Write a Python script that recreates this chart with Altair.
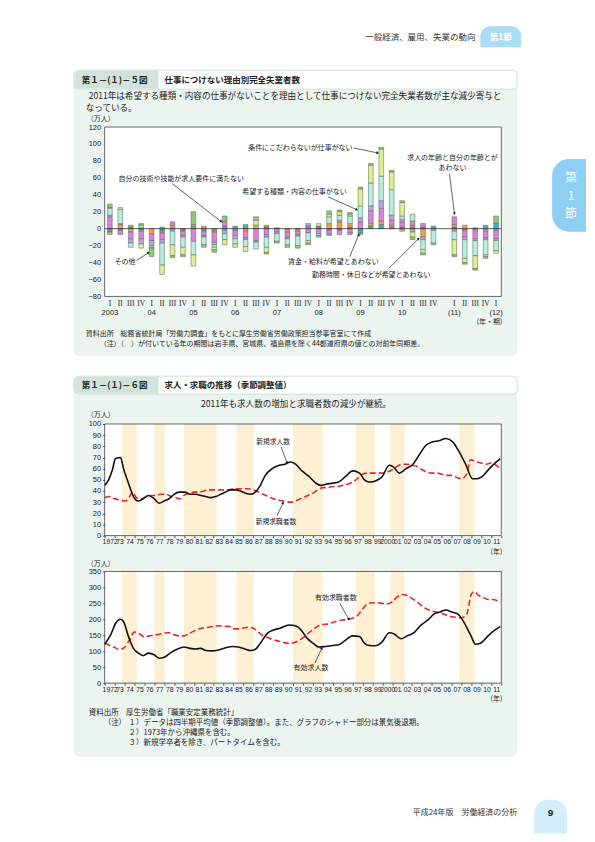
import math
import altair as alt
import pandas as pd

JP = "Noto Sans CJK JP"
NUM = "Liberation Sans"
NARROW = "Liberation Sans Narrow, Liberation Sans, sans-serif"
SERIF = "Liberation Serif, DejaVu Serif, serif"

# ---------------- 第1-(1)-5図 data ----------------
slot_keys = ([f"{y}-{q}" for y in range(2003, 2011) for q in range(1, 5)]
             + ["gap-0"] + [f"2011-{q}" for q in range(1, 5)] + ["2012-1"])
bar_slots = [k for k in slot_keys if k != "gap-0"]
year_slots = ["2003-1", "2004-1", "2005-1", "2006-1", "2007-1", "2008-1",
              "2009-1", "2010-1", "2011-1", "2012-1"]
year_texts = ["2003", "04", "05", "06", "07", "08", "09", "10", "(11)", "(12)"]

reasons = ["賃金・給料が希望とあわない", "勤務時間・休日などが希望とあわない",
           "求人の年齢と自分の年齢とがあわない", "自分の技術や技能が求人要件に満たない",
           "希望する種類・内容の仕事がない", "条件にこだわらないが仕事がない", "その他"]
reason_colors = ["#35b3c6", "#f4a046", "#e27ddd", "#b8a2e8", "#b6efdb", "#dcf08e", "#8ccf6a"]

wage = [-4, -2, 2, -3, 0, -3, 1, -2, 1, -3, -2, 3, 3, 3, 0, 2, 0, -1, -1, 3, 2, -2, -2, 2, -5,
        3, 5, 2, 2, 2, 2, 3, 2, -2, 1, 4, 7]
hours = [-3, 5, -4, 1, -6, -2, 3, -1, 2, 3, -2, -2, -2, -3, 4, 2, 1, -3, -2, 0, 0, 6, 8, 4, -2,
         3, 4, 2, -3, 2, -10, 0, 3, 4, -2, -3, -2]
age = [14, -5, -8, -9, -8, -8, 4, -5, -15, -5, -12, 6, -6, -8, -14, -7, -4, -6, -4, -5, -6, -4,
       -5, -5, 8, 15, 15, 6, 6, 5, 4, 0, 9, -8, -10, -8, -10]
skill = [2, 1, -5, -6, -6, -4, -3, -2, 2, -2, -3, -4, -4, -2, -2, -3, -2, -2, -2, 3, 1, -2, 2,
         -2, 5, 6, 9, 6, 3, -4, -3, -2, -3, -3, -2, -2, -2]
kind = [8, 17, -5, 3, -2, -26, -16, -12, -16, -9, -3, -7, -6, -8, -8, -12, -9, -7, -11, -9, -2,
        8, 6, 9, 14, 27, 29, 30, 4, 8, -12, -15, -10, -22, -18, -18, -12]
anyjob = [1, 2, 0, -5, -1, -11, -13, -9, -13, 0, -3, -6, -4, -6, 6, -6, 0, 0, 0, -3, 3, 3, 4, 2,
          20, 21, 32, 21, 16, -6, -4, 0, -18, -5, -15, -2, -3]
other = [4, 0, 2, 2, -10, 2, -2, -2, 15, -3, -3, 6, 0, 2, 4, -2, -2, -3, -3, -2, -2, 4, 2, 2, 2,
         2, 2, 2, 2, -3, -2, -2, -2, -2, -2, -2, 8]

# ---------------- 第1-(1)-6図 data ----------------
rec_start = [1973.75, 1977.0, 1980.0, 1985.3, 1991.0, 1997.3, 2000.8, 2007.75]
rec_end = [1975.25, 1978.05, 1983.3, 1987.05, 1994.0, 1999.25, 2002.25, 2009.3]

new_offers_t = [1972.0, 1972.4, 1972.75, 1973.1, 1973.6, 1973.9, 1974.4, 1974.9, 1975.4, 1975.9,
                1976.4, 1977.0, 1977.5, 1978.0, 1978.5, 1979.0, 1979.5, 1980.1, 1980.6, 1981.2,
                1981.7, 1982.2, 1982.7, 1983.2, 1983.7, 1984.2, 1984.7, 1985.2, 1985.7, 1986.2,
                1986.7, 1987.2, 1987.7, 1988.2, 1988.9, 1989.6, 1990.2, 1990.75, 1991.25, 1991.9,
                1992.6, 1993.3, 1993.8, 1994.3, 1995.0, 1995.6, 1996.3, 1997.0, 1997.7, 1998.2,
                1998.7, 1999.3, 2000.0, 2000.7, 2001.2, 2001.7, 2002.4, 2003.0, 2003.7, 2004.4,
                2005.1, 2005.7, 2006.4, 2007.1, 2007.75, 2008.4, 2009.1, 2009.6, 2010.1, 2010.8,
                2011.5, 2011.9]
new_offers_v = [45, 50, 58, 69, 70, 60, 47, 35, 31, 33, 36, 33, 29, 31, 33, 37, 39, 39, 37, 37,
                36, 35, 34, 35, 37, 39, 41, 41, 40, 38, 37, 39, 45, 54, 60, 63, 64, 66, 64, 58,
                53, 47, 45, 46, 47, 48, 53, 58, 56, 50, 48, 49, 53, 63, 61, 56, 60, 63, 72, 81,
                84, 85, 87, 84, 75, 64, 51, 51, 53, 60, 66, 69]

new_seekers_t = [1972.0, 1972.5, 1973.0, 1973.5, 1974.0, 1974.4, 1974.8, 1975.2, 1975.7, 1976.2,
                 1976.7, 1977.2, 1977.7, 1978.2, 1978.7, 1979.2, 1979.6, 1980.0, 1980.5, 1981.0,
                 1981.5, 1982.0, 1982.5, 1983.0, 1983.5, 1984.0, 1984.5, 1985.0, 1985.5, 1986.0,
                 1986.5, 1987.0, 1987.5, 1988.0, 1988.5, 1989.0, 1989.5, 1990.0, 1990.5, 1991.0,
                 1991.5, 1992.0, 1992.5, 1993.0, 1993.5, 1994.0, 1994.5, 1995.0, 1995.5, 1996.0,
                 1996.5, 1997.0, 1997.5, 1998.0, 1998.5, 1999.0, 1999.5, 2000.0, 2000.5, 2001.0,
                 2001.5, 2002.0, 2002.5, 2003.0, 2003.5, 2004.0, 2004.5, 2005.0, 2005.5, 2006.0,
                 2006.5, 2007.0, 2007.5, 2008.0, 2008.5, 2008.9, 2009.5, 2010.0, 2010.5, 2011.0,
                 2011.5, 2011.9]
new_seekers_v = [34, 35, 33, 32, 31, 33, 39, 34, 33, 35, 36, 36, 37, 37, 35, 34, 33, 36, 38, 39,
                 39, 40, 41, 41, 41, 41, 41, 42, 42, 42, 42, 41, 39, 37, 35, 33, 32, 31, 30, 30,
                 32, 34, 36, 38, 41, 43, 43, 44, 44, 45, 46, 48, 51, 55, 56, 56, 56, 56, 57, 59,
                 62, 64, 64, 63, 62, 59, 57, 56, 56, 55, 54, 54, 52, 51, 55, 68, 66, 65, 64, 65,
                 63, 60]

active_offers_t = [1972.0, 1972.6, 1973.1, 1973.6, 1973.9, 1974.4, 1974.9, 1975.4, 1975.9, 1976.4,
                   1977.0, 1977.5, 1978.0, 1978.6, 1979.3, 1980.0, 1980.6, 1981.2, 1981.7, 1982.2,
                   1982.8, 1983.5, 1984.2, 1984.9, 1985.5, 1986.2, 1986.7, 1987.2, 1987.7, 1988.4,
                   1989.1, 1989.7, 1990.6, 1991.3, 1991.8, 1992.4, 1993.1, 1993.6, 1994.3, 1995.0,
                   1995.6, 1996.3, 1997.0, 1997.7, 1998.2, 1998.7, 1999.3, 2000.0, 2000.7, 2001.2,
                   2001.9, 2002.5, 2003.2, 2003.9, 2004.6, 2005.2, 2005.9, 2006.4, 2007.1, 2007.6,
                   2008.3, 2008.9, 2009.4, 2009.9, 2010.6, 2011.3, 2011.9]
active_offers_v = [122, 151, 187, 200, 193, 146, 109, 94, 86, 94, 89, 78, 81, 94, 106, 113, 109,
                   107, 109, 102, 101, 104, 111, 115, 113, 106, 102, 106, 125, 156, 167, 172, 182,
                   179, 167, 141, 123, 113, 115, 118, 120, 135, 148, 146, 125, 118, 117, 130, 158,
                   154, 139, 148, 158, 182, 198, 216, 224, 229, 222, 217, 187, 151, 122, 125, 146,
                   165, 177]

active_seekers_t = [1972.0, 1972.5, 1973.0, 1973.5, 1974.0, 1974.5, 1975.0, 1975.5, 1976.0, 1976.5,
                    1977.0, 1977.5, 1978.0, 1978.5, 1979.0, 1979.5, 1980.0, 1980.5, 1981.0, 1981.5,
                    1982.0, 1982.5, 1983.0, 1983.5, 1984.0, 1984.5, 1985.0, 1985.5, 1986.0, 1986.5,
                    1987.0, 1987.5, 1988.0, 1988.5, 1989.0, 1989.5, 1990.0, 1990.5, 1991.0, 1991.5,
                    1992.0, 1992.5, 1993.0, 1993.5, 1994.0, 1994.5, 1995.0, 1995.5, 1996.0, 1996.5,
                    1997.0, 1997.5, 1998.0, 1998.5, 1999.0, 1999.5, 2000.0, 2000.5, 2001.0, 2001.5,
                    2002.0, 2002.5, 2003.0, 2003.5, 2004.0, 2004.5, 2005.0, 2005.5, 2006.0, 2006.5,
                    2007.0, 2007.5, 2008.0, 2008.5, 2009.0, 2009.3, 2009.7, 2010.2, 2010.7, 2011.2,
                    2011.6, 2011.9]
active_seekers_v = [125, 118, 112, 105, 112, 135, 160, 155, 145, 148, 150, 153, 157, 158, 152, 148,
                    148, 155, 163, 170, 173, 175, 178, 180, 178, 178, 170, 170, 173, 175, 172, 160,
                    148, 142, 136, 132, 128, 125, 126, 132, 142, 155, 168, 178, 184, 185, 190, 195,
                    198, 200, 203, 212, 232, 248, 252, 252, 250, 248, 255, 270, 278, 275, 265, 255,
                    242, 232, 226, 222, 218, 213, 208, 206, 205, 215, 280, 287, 275, 268, 262, 262,
                    258, 253]

# ---------------- layout (page pixels) ----------------
W = 398
H1, H2, H3 = 170, 112, 112
O1 = (104, 125)
O2 = (104, 423)
O3 = (104, 571)
PANEL = "#ecf4f0"
HEAD = "#d0e4da"
INK = "#222222"
RED = "#e8262c"

ONE = pd.DataFrame({"d": [0]})


def box(o, x1, y1, x2, y2, **mk):
    return alt.Chart(ONE).mark_rect(**mk).encode(
        x=alt.value(x1 - o[0]), x2=alt.value(x2 - o[0]),
        y=alt.value(y1 - o[1]), y2=alt.value(y2 - o[1]))


def label(o, x, y, text, size=7, align="left", **mk):
    mk.setdefault("font", JP)
    mk.setdefault("color", INK)
    return alt.Chart(ONE).mark_text(text=text, fontSize=size, align=align,
                                    baseline="middle", **mk).encode(
        x=alt.value(x - o[0]), y=alt.value(y - o[1]))


def arrow(o, x1, y1, x2, y2):
    ang = math.degrees(math.atan2(x2 - x1, -(y2 - y1))) % 360
    line = alt.Chart(ONE).mark_rule(color=INK, strokeWidth=0.7).encode(
        x=alt.value(x1 - o[0]), x2=alt.value(x2 - o[0]),
        y=alt.value(y1 - o[1]), y2=alt.value(y2 - o[1]))
    head = alt.Chart(ONE).mark_point(shape="triangle-up", filled=True, size=10,
                                     color=INK, opacity=1, angle=ang).encode(
        x=alt.value(x2 - o[0]), y=alt.value(y2 - o[1]))
    return [line, head]


def panel_header(o, y1, y2, num, title):
    return [
        box(o, 73, y1, 518, y2, fill="white", stroke="#c4dacf", strokeWidth=0.8, cornerRadius=5),
        box(o, 73.5, y1 + 0.5, 158, y2 - 0.5, fill=HEAD, cornerRadiusTopLeft=5),
        label(o, 81, (y1 + y2) / 2, num, size=8.5, fontWeight="bold"),
        label(o, 164, (y1 + y2) / 2, title, size=8.5, fontWeight="bold"),
    ]


# ---------------- chart 1: stacked bars ----------------
series = [wage, hours, age, skill, kind, anyjob, other]
rows = []
for k, (name, vals) in enumerate(zip(reasons, series)):
    for slot, v in zip(bar_slots, vals):
        if v != 0:
            rows.append({"slot": slot, "reason": name, "value": v, "k": k})
df5 = pd.DataFrame(rows)
years_df = pd.DataFrame({"slot": year_slots, "txt": year_texts})

X1 = alt.X("slot:N", title=None,
           scale=alt.Scale(domain=slot_keys, paddingInner=0.55, paddingOuter=0.275),
           axis=alt.Axis(labelExpr="['','I','II','III','IV'][toNumber(split(datum.value,'-')[1])]",
                         labelAngle=0, labelFont=SERIF, labelFontSize=7.5, labelColor=INK,
                         ticks=False, domain=False, labelPadding=3, labelOverlap=False,
                         zindex=1))
Y1 = alt.Y("value:Q", title=None, scale=alt.Scale(domain=[-80, 120], nice=False),
           axis=alt.Axis(values=list(range(-80, 121, 20)), labelFont=NUM, labelFontSize=7.5,
                         labelColor=INK, ticks=False, domain=False, grid=False,
                         labelPadding=4, zindex=1))

c1_layers = [
    box(O1, 8, 8, 9, 9, fill="white"),
    # page header + tabs
    label(O1, 476, 35, "一般経済、雇用、失業の動向", size=8.5, align="right", color="#333"),
    box(O1, 481, 24, 522, 45, fill="#a9def5", cornerRadiusTopLeft=10, cornerRadiusTopRight=10),
    label(O1, 501.5, 35, "第1節", size=8.5, align="center", color="white", fontWeight="bold"),
    box(O1, 553, 157, 587, 230, fill="#8dd0f3", cornerRadiusTopLeft=17, cornerRadiusBottomLeft=17),
    label(O1, 572, 176, "第", size=12, align="center", color="white"),
    label(O1, 572, 194, "1", size=12, align="center", color="white"),
    label(O1, 572, 212, "節", size=12, align="center", color="white"),
    # panel
    box(O1, 73, 68, 518, 355, fill=PANEL, cornerRadius=6),
    *panel_header(O1, 68, 87, "第１－(１)－５図", "仕事につけない理由別完全失業者数"),
    label(O1, 88, 94, "2011年は希望する種類・内容の仕事がないことを理由として仕事につけない完全失業者数が主な減少寄与と",
          size=8.6),
    label(O1, 85, 106, "なっている。", size=8.6),
    label(O1, 86, 117, "（万人）", size=7),
    box(O1, 104, 125, 502, 295, fill="white"),
]

bars = alt.Chart(df5).mark_bar(stroke="#55635a", strokeWidth=0.5).encode(
    x=X1, y=Y1,
    color=alt.Color("reason:N", scale=alt.Scale(domain=reasons, range=reason_colors), legend=None),
    order=alt.Order("k:Q", sort="ascending"),
)
zero = alt.Chart(pd.DataFrame({"value": [0]})).mark_rule(color="#333", strokeWidth=0.8).encode(
    y=Y1, x=alt.value(0), x2=alt.value(W))
yrs = alt.Chart(years_df).mark_text(font=NUM, fontSize=7.5, color=INK, baseline="middle").encode(
    x=X1, y=alt.value(H1 + 17), text="txt:N")

c1_layers += [bars, zero, yrs,
              box(O1, 104, 125, 502, 295, fillOpacity=0, stroke="#444", strokeWidth=0.8)]

c1_layers += [label(O1, 248, 146, "条件にこだわらないが仕事がない")]
c1_layers += arrow(O1, 354, 146, 378, 151)
c1_layers += [label(O1, 453, 156, "求人の年齢と自分の年齢とが", align="center"),
              label(O1, 453, 166, "あわない", align="center")]
c1_layers += arrow(O1, 450, 172, 455, 212)
c1_layers += [label(O1, 118, 177, "自分の技術や技能が求人要件に満たない")]
c1_layers += arrow(O1, 172, 182, 221, 220)
c1_layers += [label(O1, 242, 190, "希望する種類・内容の仕事がない")]
c1_layers += arrow(O1, 328, 195, 357, 208)
c1_layers += [label(O1, 114, 260, "その他")]
c1_layers += arrow(O1, 136, 259, 148, 251)
c1_layers += [label(O1, 288, 260, "賃金・給料が希望とあわない")]
c1_layers += arrow(O1, 350, 255, 359, 233)
c1_layers += [label(O1, 312, 273, "勤務時間・休日などが希望とあわない")]
c1_layers += arrow(O1, 389, 267, 419, 237)
c1_layers += [
    label(O1, 503, 321, "(年・期)", size=7, align="right"),
    label(O1, 85, 333, "資料出所　総務省統計局「労働力調査」をもとに厚生労働省労働政策担当参事官室にて作成", size=7),
    label(O1, 99, 343, "（注）（　）が付いている年の期間は岩手県、宮城県、福島県を除く44都道府県の値との対前年同期差。", size=7),
]
chart1 = alt.layer(*c1_layers).properties(width=W, height=H1)


# ---------------- charts 2 and 3: lines ----------------
def xq(field):
    return alt.X(field, type="quantitative", title=None,
                 scale=alt.Scale(domain=[1972, 2012], nice=False, zero=False),
                 axis=alt.Axis(values=list(range(1972, 2013)),
                               labelExpr="datum.value >= 2012 ? '' : (datum.value == 1972 || datum.value == 2000 ? toString(datum.value) : slice(toString(datum.value), 2))",
                               labelOffset=5, labelFont=NARROW, labelFontSize=6.8,
                               labelColor=INK, labelOverlap=False, labelFlush=False,
                               labelBound=False, tickSize=2, tickColor="#444", domain=False,
                               grid=False, labelPadding=1, labelAngle=0, zindex=1))


def yq(top, step):
    return alt.Y("v:Q", title=None, scale=alt.Scale(domain=[0, top], nice=False),
                 axis=alt.Axis(values=list(range(0, top + 1, step)), labelFont=NUM,
                               labelFontSize=7.5, labelColor=INK, tickSize=2,
                               tickColor="#444", domain=False, grid=False, labelPadding=2,
                               zindex=1))


rec_df = pd.DataFrame({"start": rec_start, "end": rec_end})


def line_panel(o, h, top, step, t_black, v_black, t_red, v_red):
    Y = yq(top, step)
    shade = alt.Chart(rec_df).mark_rect(fill="#fdf0d3").encode(
        x=xq("start"), x2="end:Q", y=alt.value(0), y2=alt.value(h))
    black = alt.Chart(pd.DataFrame({"t": t_black, "v": v_black})).mark_line(
        color="#111", strokeWidth=1.6, interpolate="monotone").encode(x=xq("t"), y=Y)
    red = alt.Chart(pd.DataFrame({"t": t_red, "v": v_red})).mark_line(
        color=RED, strokeWidth=1.6, strokeDash=[6, 3], interpolate="monotone").encode(x=xq("t"), y=Y)
    return [
        box(o, o[0], o[1], o[0] + W, o[1] + h, fill="white"),
        shade, red, black,
        box(o, o[0], o[1], o[0] + W, o[1] + h, fillOpacity=0, stroke="#444", strokeWidth=0.8),
    ]


c2_layers = [
    box(O2, 73, 375, 518, 757, fill=PANEL, cornerRadius=6),
    *panel_header(O2, 375, 393, "第１－(１)－６図", "求人・求職の推移（季節調整値）"),
    label(O2, 296, 403, "2011年も求人数の増加と求職者数の減少が継続。", size=8.6, align="center"),
    label(O2, 86, 414, "（万人）", size=7),
    *line_panel(O2, H2, 100, 10, new_offers_t, new_offers_v, new_seekers_t, new_seekers_v),
    label(O2, 273, 441, "新規求人数", size=6.8, align="center"),
    *arrow(O2, 281, 446, 287, 462),
    label(O2, 276, 521, "新規求職者数", size=6.8, align="center"),
    *arrow(O2, 277, 515, 283, 502),
    label(O2, 503, 551, "(年)", size=7, align="right"),
]
chart2 = alt.layer(*c2_layers).properties(width=W, height=H2)

c3_layers = [
    label(O3, 86, 563, "（万人）", size=7),
    *line_panel(O3, H3, 350, 50, active_offers_t, active_offers_v, active_seekers_t, active_seekers_v),
    label(O3, 336, 598, "有効求職者数", size=7, align="center"),
    *arrow(O3, 340, 603, 349, 619),
    label(O3, 311, 668, "有効求人数", size=7, align="center"),
    *arrow(O3, 315, 663, 322, 648),
    label(O3, 503, 699, "(年)", size=7, align="right"),
    label(O3, 88, 713, "資料出所　厚生労働省「職業安定業務統計」", size=7.5),
    label(O3, 103, 723, "（注）", size=7.5),
    label(O3, 128, 723, "１）データは四半期平均値（季節調整値）。また、グラフのシャドー部分は景気後退期。", size=7.5),
    label(O3, 128, 733, "２）1973年から沖縄県を含む。", size=7.5),
    label(O3, 128, 743, "３）新規学卒者を除き、パートタイムを含む。", size=7.5),
    # footer
    label(O3, 518, 813, "平成24年版　労働経済の分析", size=8, align="right", color="#333"),
    box(O3, 535, 800, 568, 834, fill="#d2eef8", cornerRadiusTopLeft=14, cornerRadiusTopRight=14),
    label(O3, 551.5, 813, "9", size=10, align="center", font=NUM, fontWeight="bold"),
]
chart3 = alt.layer(*c3_layers).properties(width=W, height=H3)

inner = alt.vconcat(chart2, chart3, spacing=O3[1] - O2[1] - H2, bounds="flush")
chart = alt.vconcat(chart1, inner, spacing=O2[1] - O1[1] - H1, bounds="flush").properties(
    padding=0
).configure_view(strokeWidth=0).configure(font=JP)

chart.save("out.html", embed_options={"renderer": "svg", "actions": False})
